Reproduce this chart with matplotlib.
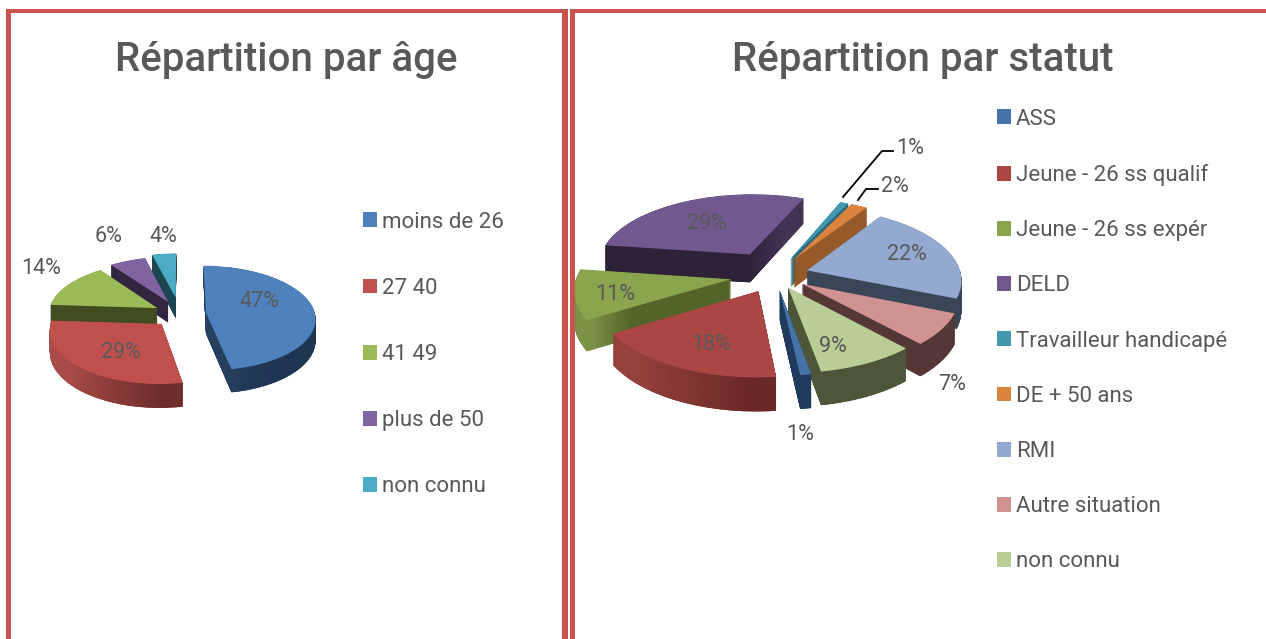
import numpy as np
import matplotlib
matplotlib.use("Agg")
import matplotlib.pyplot as plt
from matplotlib.colors import to_rgb
from matplotlib.lines import Line2D
from matplotlib.patches import Rectangle
from matplotlib.transforms import Transform

# ---- data -------------------------------------------------------------
age_labels = ["moins de 26", "27 40", "41 49", "plus de 50", "non connu"]
age_values = [47, 29, 14, 6, 4]
status_labels = ["ASS", "Jeune - 26 ss qualif", "Jeune - 26 ss expér", "DELD",
                 "Travailleur handicapé", "DE + 50 ans", "RMI",
                 "Autre situation", "non connu"]
status_values = [1, 18, 11, 29, 1, 2, 22, 7, 9]
age_title = "Répartition par âge"
status_title = "Répartition par statut"

# ---- style ------------------------------------------------------------
W, H = 1266, 639
FONT = "Roboto"
GREY = "#595959"
FRAME = "#C9544F"
age_colors = ["#4F81BD", "#C0504D", "#9BBB59", "#8064A2", "#4BACC6"]
age_sides = [["#27405F", "#1F3552", "#1D3350"], ["#A84B47", "#7E3734", "#5A2422"],
             ["#414C20", "#414C20"], ["#32263F", "#32263F"], ["#1C4650", "#1C4650"]]
age_explode = [0.24, 0.25, 0.24, 0.26, 0.32]
age_order = [4, 3, 2, 1, 0]
status_colors = ["#4572A7", "#AA4643", "#89A54E", "#71588F", "#4198AF",
                 "#DB843D", "#93A9CF", "#D19392", "#B9CD96"]
status_sides = [["#1F3A5C", "#1F3A5C"], ["#96403C", "#7A332F", "#5E2220"],
                ["#7A9346", "#46541F", "#46541F", "#46541F"],
                ["#2D2238", "#2D2238", "#2D2238", "#2D2238", "#523E66"],
                ["#2B6A7A", "#2B6A7A"], ["#96592A", "#96592A"], ["#3A4558", "#3A4558"],
                ["#553836", "#553836"], ["#4E5639", "#4E5639"]]
status_explode = [0.20, 0.24, 0.29, 0.34, 0.25, 0.25, 0.22, 0.21, 0.19]
status_order = [3, 4, 5, 6, 2, 7, 1, 8, 0]


class Tilt(Transform):
    """Perspective of a pie seen from above; z lowers a layer under the top face."""
    input_dims = output_dims = 2
    is_separable = False
    has_inverse = False

    def __init__(self, k, z):
        super().__init__()
        self.k, self.z = k, z

    def transform_non_affine(self, xy):
        xy = np.asarray(xy, float)
        s = 1.0 / (1.0 + self.k * xy[:, 1])
        return np.column_stack([xy[:, 0] * s, (xy[:, 1] - self.z) * s])


def px(x, y):
    return x / W, 1 - y / H


def pie3d(fig, values, colors, sides, explode, order, start, cx, cy, rx, ry, k, depth):
    ax = fig.add_axes([0, 0, 1, 1])
    ax.patch.set_alpha(0)
    n = int(round(depth * 2))
    rank = {w: i for i, w in enumerate(order)}
    bboxes = {}
    tops, _ = ax.pie(values, colors=colors, explode=explode, startangle=start,
                     counterclock=False, radius=1)
    for i, w in enumerate(tops):
        w.set_transform(Tilt(k, 0) + ax.transData)
        w.set_zorder(10 * rank[i] + 9.9)
        w.set_clip_on(False)
        w.set_linewidth(0)
    low = Tilt(k, depth / ry)
    for i, w in enumerate(tops):
        v = w.get_path().transformed(low).vertices
        v2 = w.get_path().transformed(Tilt(k, 0)).vertices
        bboxes[i] = (min(v[:, 0].min(), v2[:, 0].min()), max(v[:, 0].max(), v2[:, 0].max()),
                     min(v[:, 1].min(), v2[:, 1].min()), max(v[:, 1].max(), v2[:, 1].max()))
    for l in range(n, 0, -1):
        z = depth / ry * l / n
        layer, _ = ax.pie(values, colors=colors, explode=explode, startangle=start,
                          counterclock=False, radius=1)
        for i, w in enumerate(layer):
            w.set_transform(Tilt(k, z) + ax.transData)
            zo = 10 * rank[i] + 9 * (n - l) / n
            w.set_zorder(zo)
            w.set_facecolor(sides[i][0])
            w.set_linewidth(0)
            w.set_clip_on(False)
            grad = np.array([[to_rgb(c) for c in sides[i]]])
            x0, x1, y0, y1 = bboxes[i]
            im = ax.imshow(grad, extent=(x0, x1, y0, y1), aspect="auto",
                           interpolation="bilinear", zorder=zo + 0.01)
            im.set_clip_path(w)
    ax.set_xlim(-cx / rx, (W - cx) / rx)
    ax.set_ylim(-(H - cy) / ry, cy / ry)
    ax.set_axis_off()
    return ax, tops


fig = plt.figure(figsize=(W / 100, H / 100), dpi=100, facecolor="white")

# panel frames
for x0, y0, x1, y1 in [(5.5, 9, 11, H), (5.5, 9, 568, 12.5), (562, 9, 568, H),
                       (570, 9, 575, H), (570, 9, W, 12.5)]:
    fig.add_artist(Rectangle(px(x0, y1), (x1 - x0) / W, (y1 - y0) / H,
                             transform=fig.transFigure, facecolor=FRAME, linewidth=0))

ax_a, w_a = pie3d(fig, age_values, age_colors, age_sides, age_explode, age_order,
                  90, 180, 314, 109, 52, 0.10, 21)
ax_s, w_s = pie3d(fig, status_values, status_colors, status_sides, status_explode, status_order,
                  -80, 775, 275, 154, 72, 0.12, 29)

# titles
fig.text(*px(286, 60), age_title, fontsize=29, fontweight="medium", color=GREY,
         family=FONT, ha="center", va="center")
fig.text(*px(923, 60), status_title, fontsize=29, fontweight="medium", color=GREY,
         family=FONT, ha="center", va="center")

# value labels
age_label_xy = [(259, 302), (121, 352), (41, 268), (109, 236), (163, 236)]
status_label_xy = [(800, 434), (711, 345), (615, 294), (707, 224), (910, 149),
                   (895, 186), (907, 255), (952, 384), (833, 347)]
for vals, pos in [(age_values, age_label_xy), (status_values, status_label_xy)]:
    for v, (x, y) in zip(vals, pos):
        fig.text(*px(x, y), f"{v}%", fontsize=15.5, color=GREY, family=FONT,
                 ha="center", va="center", zorder=50)

# leader lines
for xs, ys in [((843, 882, 893), (197, 151, 151)), ((858, 866, 878), (200, 189, 189))]:
    fig.add_artist(Line2D([x / W for x in xs], [1 - y / H for y in ys],
                          transform=fig.transFigure, color="black", linewidth=1.3, zorder=50))

# legends
for ax, wedges, labels, x, y, sp in [(ax_a, w_a, age_labels, 356, 205, 2.03),
                                     (ax_s, w_s, status_labels, 990, 102, 1.54)]:
    leg = ax.legend(wedges, labels, loc="upper left", bbox_to_anchor=px(x, y),
                    bbox_transform=fig.transFigure, frameon=False,
                    handlelength=0.65, handleheight=0.65, handletextpad=0.22,
                    labelspacing=sp, borderpad=0.3, borderaxespad=0,
                    labelcolor=GREY, prop={"family": FONT, "size": 16})

fig.savefig("out.png", dpi=100)
